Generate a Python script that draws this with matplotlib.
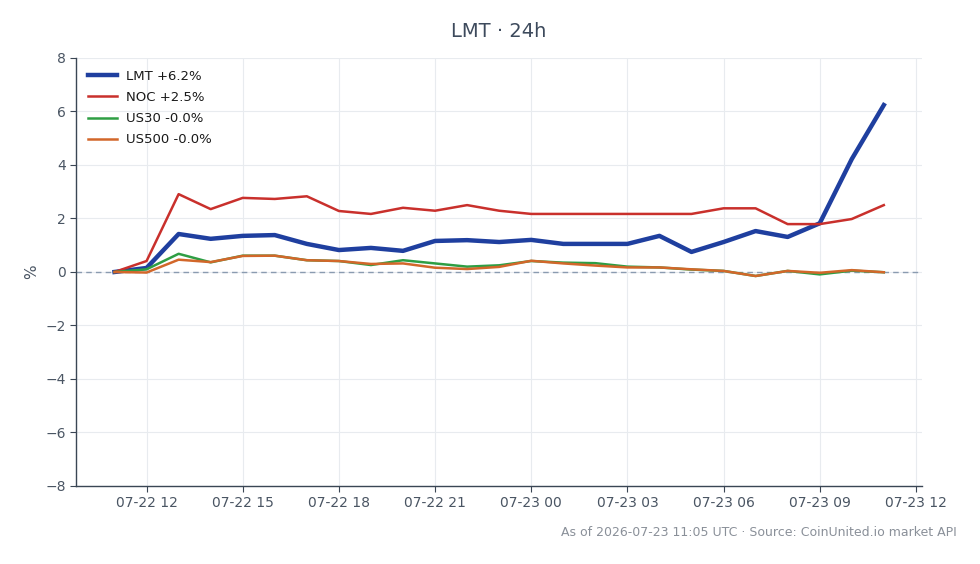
import matplotlib
matplotlib.use("Agg")
import matplotlib.pyplot as plt
import matplotlib.dates as mdates
import pandas as pd

times = pd.date_range("2026-07-22 11:00", "2026-07-23 11:00", freq="h")

lmt = [0.0, 0.15, 1.42, 1.24, 1.35, 1.38, 1.05, 0.82, 0.90, 0.79, 1.16, 1.19, 1.12,
       1.20, 1.05, 1.05, 1.05, 1.35, 0.75, 1.12, 1.53, 1.31, 1.82, 4.22, 6.24]
noc = [0.0, 0.41, 2.91, 2.35, 2.77, 2.73, 2.83, 2.28, 2.17, 2.40, 2.29, 2.50, 2.29,
       2.17, 2.17, 2.17, 2.17, 2.17, 2.17, 2.38, 2.38, 1.79, 1.79, 1.98, 2.50]
us30 = [0.0, 0.10, 0.68, 0.36, 0.61, 0.61, 0.44, 0.41, 0.26, 0.44, 0.32, 0.20, 0.25,
        0.41, 0.35, 0.33, 0.20, 0.17, 0.09, 0.04, -0.15, 0.04, -0.09, 0.05, -0.01]
us500 = [0.0, -0.02, 0.46, 0.37, 0.60, 0.61, 0.44, 0.41, 0.30, 0.32, 0.16, 0.11, 0.19,
         0.42, 0.32, 0.24, 0.17, 0.17, 0.10, 0.04, -0.15, 0.04, -0.03, 0.07, -0.01]

labels = ["LMT +6.2%", "NOC +2.5%", "US30 -0.0%", "US500 -0.0%"]
colors = ["#1f3f9f", "#c9302c", "#2e9e44", "#d2672a"]
widths = [3.2, 1.8, 1.8, 1.8]

fig = plt.figure(figsize=(9.8, 5.64), dpi=100)
ax = fig.add_axes([0.0776, 0.1383, 0.8635, 0.7589])

ax.axhline(0, color="#8a9bb0", lw=1.0, ls=(0, (4, 3)), zorder=2)
for series, lab, c, w in zip([lmt, noc, us30, us500], labels, colors, widths):
    ax.plot(times, series, color=c, lw=w, label=lab, zorder=3)

ax.set_ylim(-8, 8)
ax.set_yticks(range(-8, 9, 2))
ax.xaxis.set_major_locator(mdates.HourLocator(byhour=[0, 3, 6, 9, 12, 15, 18, 21]))
ax.xaxis.set_major_formatter(mdates.DateFormatter("%m-%d %H"))
ax.set_axisbelow(True)
ax.grid(True, color="#e8ebef", lw=0.8)
for s in ["top", "right"]:
    ax.spines[s].set_visible(False)
for s in ["left", "bottom"]:
    ax.spines[s].set_color("#3a4654")
    ax.spines[s].set_linewidth(1.0)
ax.tick_params(colors="#3a4654", labelsize=10, length=4)
for t in ax.get_xticklabels() + ax.get_yticklabels():
    t.set_color("#4a5563")
ax.set_ylabel("%", color="#4a5563", fontsize=11)
ax.set_title("LMT · 24h", color="#3d4a5c", fontsize=14, pad=15)

leg = ax.legend(loc="upper left", frameon=False, fontsize=9.5, handlelength=2.2,
                handletextpad=0.7, borderaxespad=0.5, labelspacing=0.62)
for t in leg.get_texts():
    t.set_color("#1a1a1a")

fig.text(0.976, 0.055, "As of 2026-07-23 11:05 UTC · Source: CoinUnited.io market API",
         ha="right", va="center", fontsize=9, color="#8a9099")

fig.savefig("out.png", dpi=100)
